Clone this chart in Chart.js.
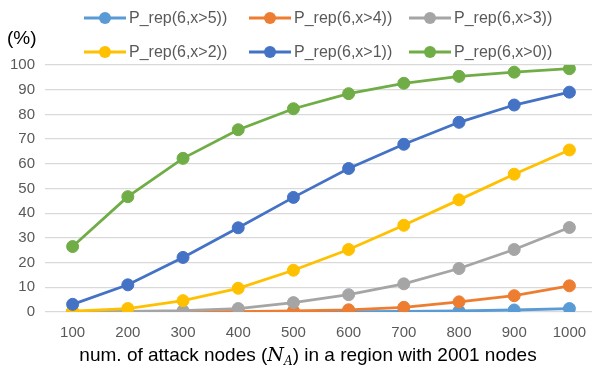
<!DOCTYPE html>
<html>
<head>
<meta charset="utf-8">
<script src="https://cdn.jsdelivr.net/npm/chart.js@4/dist/chart.umd.min.js"></script>
<style>
  html, body { margin: 0; padding: 0; background: #fff; overflow: hidden; }
  #wrap { width: 604px; height: 371px; position: relative; }
</style>
</head>
<body>
<div id="wrap"><canvas id="canvas"></canvas></div>
<script>
// data
const nodes = ['100', '200', '300', '400', '500', '600', '700', '800', '900', '1000'];
const seriesNames = ['P_rep(6,x>5))', 'P_rep(6,x>4))', 'P_rep(6,x>3))', 'P_rep(6,x>2))', 'P_rep(6,x>1))', 'P_rep(6,x>0))'];
const gt5 = [0, 0, 0, 0, 0.05, 0.1, 0.2, 0.4, 0.8, 1.4];
const gt4 = [0, 0, 0, 0.1, 0.4, 0.9, 1.9, 4.1, 6.6, 10.6];
const gt3 = [0.05, 0.2, 0.5, 1.4, 3.8, 7.0, 11.4, 17.6, 25.3, 34.2];
const gt2 = [0.3, 1.4, 4.6, 9.6, 16.9, 25.3, 35.1, 45.4, 55.8, 65.6];
const gt1 = [3.1, 11.0, 22.1, 34.1, 46.4, 58.1, 67.9, 76.8, 83.8, 89.0];
const gt0 = [26.5, 46.7, 62.2, 73.8, 82.3, 88.4, 92.6, 95.4, 97.1, 98.5];
const colors = ['#5B9BD5', '#ED7D31', '#A5A5A5', '#FFC000', '#4472C4', '#70AD47'];

const allSeries = [gt5, gt4, gt3, gt2, gt1, gt0];
const font = '"Liberation Sans", Arial, sans-serif';

let datasets = allSeries.map((vals, i) => ({
    label: seriesNames[i],
    data: vals,
    borderColor: colors[i],
    backgroundColor: colors[i],
    borderWidth: 2.8,
    pointRadius: 6,
    pointHoverRadius: 6,
    pointBorderWidth: 1,
    tension: 0,
    order: 6 - i   // later series on top, like the original
}));

// legend in 2 rows x 3 columns, marker = line with dot
const legendPlugin = {
    id: 'legendRows',
    afterDraw(chart) {
        const ctx = chart.ctx;
        const colX = [84, 249, 409];
        const rowY = [18, 52];
        ctx.save();
        ctx.font = '16px ' + font;
        ctx.textBaseline = 'middle';
        chart.data.datasets.forEach((ds, i) => {
            const x = colX[i % 3];
            const y = rowY[Math.floor(i / 3)];
            ctx.strokeStyle = ds.borderColor;
            ctx.lineWidth = 2.8;
            ctx.beginPath();
            ctx.moveTo(x, y);
            ctx.lineTo(x + 42, y);
            ctx.stroke();
            ctx.fillStyle = ds.backgroundColor;
            ctx.beginPath();
            ctx.arc(x + 21, y, 6, 0, Math.PI * 2);
            ctx.fill();
            ctx.fillStyle = '#595959';
            ctx.fillText(ds.label, x + 45, y + 1);
        });
        // unit label
        ctx.fillStyle = '#000';
        ctx.font = '19px ' + font;
        ctx.fillText('(%)', 7, 39);
        ctx.restore();
    }
};

// x axis title with italic N_A
const xTitlePlugin = {
    id: 'xTitle',
    afterDraw(chart) {
        const ctx = chart.ctx;
        const parts = [
            { t: 'num. of attack nodes (', f: '19px ' + font, dy: 0 },
            { t: 'N', f: 'italic 19px "DejaVu Serif", serif', dy: 0 },
            { t: 'A', f: 'italic 12px "DejaVu Serif", serif', dy: 4 },
            { t: ') in a region with 2001 nodes', f: '19px ' + font, dy: 0 }
        ];
        ctx.save();
        ctx.textBaseline = 'alphabetic';
        let total = 0;
        parts.forEach(p => { ctx.font = p.f; total += ctx.measureText(p.t).width; });
        let x = 308 - total / 2;
        const y = 361;
        ctx.fillStyle = '#000';
        parts.forEach(p => {
            ctx.font = p.f;
            ctx.fillText(p.t, x, y + p.dy);
            x += ctx.measureText(p.t).width;
        });
        ctx.restore();
    }
};

let chart = new Chart(document.getElementById('canvas'), {
    type: 'line',
    data: { labels: nodes, datasets: datasets },
    options: {
        responsive: true,
        maintainAspectRatio: false,
        animation: false,
        layout: { padding: { top: 65, bottom: 25, left: 0, right: 0 } },
        plugins: {
            legend: { display: false },
            tooltip: { enabled: false }
        },
        scales: {
            x: {
                offset: true,
                grid: { display: false },
                border: { display: false },
                ticks: { color: '#595959', font: { family: font, size: 15 }, padding: 4 }
            },
            y: {
                min: 0,
                max: 100,
                ticks: { stepSize: 10, color: '#595959', font: { family: font, size: 15 }, padding: 10 },
                grid: { color: '#D9D9D9', lineWidth: 1.3, drawTicks: false },
                border: { display: false }
            }
        }
    },
    plugins: [legendPlugin, xTitlePlugin]
});
</script>
</body>
</html>
